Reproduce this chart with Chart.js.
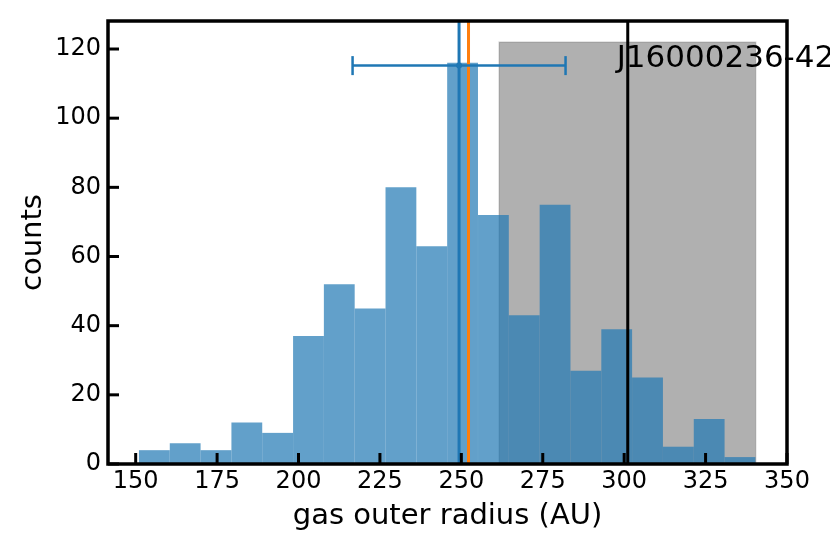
<!DOCTYPE html>
<html>
<head>
<meta charset="utf-8">
<script src="https://cdn.jsdelivr.net/npm/chart.js@4.4.1/dist/chart.umd.min.js"></script>
<style>
  body { margin: 0; background: #fff; }
  #wrap { width: 830px; height: 554px; position: relative; }
</style>
</head>
<body>
<div id="wrap"><canvas id="hist"></canvas></div>
<script>
// histogram bins (centres) and counts
const binCenters = [155.73, 165.20, 174.66, 184.13, 193.59, 203.06, 212.52, 221.99, 231.45, 240.92,
                    250.38, 259.85, 269.31, 278.78, 288.24, 297.71, 307.17, 316.64, 326.10, 335.57];
const counts = [4, 6, 4, 12, 9, 37, 52, 45, 80, 63, 116, 72, 43, 75, 27, 39, 25, 5, 13, 2];

// markers
const blueLine = 249.3;
const orangeLine = 252.2;
const blackLine = 301.1;
const errLow = 216.6, errHigh = 282.0, errY = 115.2;
const shadeFrom = 261.6, shadeTo = 340.4, shadeTop = 122;
const labelText = 'J16000236-42';

const xMin = 141.5, xMax = 350, yMin = 0, yMax = 128.1;
const xTicks = [150, 175, 200, 225, 250, 275, 300, 325, 350];
const yTicks = [0, 20, 40, 60, 80, 100, 120];

const FONT = "'DejaVu Sans', sans-serif";

const framePlugin = {
  id: 'frame',
  beforeDatasetsDraw(chart) {
    const {ctx, scales: {x, y}} = chart;
    const x0 = x.getPixelForValue(shadeFrom), x1 = x.getPixelForValue(shadeTo);
    const y0 = y.getPixelForValue(0), y1 = y.getPixelForValue(shadeTop);
    ctx.save();
    ctx.fillStyle = 'rgba(0,0,0,0.31)';
    ctx.fillRect(x0, y1, x1 - x0, y0 - y1);
    ctx.strokeStyle = 'rgba(0,0,0,0.15)';
    ctx.lineWidth = 1.5;
    ctx.strokeRect(x0, y1, x1 - x0, y0 - y1);
    ctx.restore();
  },
  afterDatasetsDraw(chart) {
    const {ctx, scales: {x, y}} = chart;
    const yy = y.getPixelForValue(errY);
    ctx.save();
    ctx.strokeStyle = '#1f77b4';
    ctx.lineWidth = 2.5;
    [errLow, errHigh].forEach(v => {
      const px = x.getPixelForValue(v);
      ctx.beginPath();
      ctx.moveTo(px, yy - 9.5);
      ctx.lineTo(px, yy + 9.5);
      ctx.stroke();
    });
    ctx.fillStyle = '#1f77b4';
    ctx.beginPath();
    ctx.arc(x.getPixelForValue(blueLine), yy, 3, 0, Math.PI * 2);
    ctx.fill();
    ctx.restore();
  },
  afterDraw(chart) {
    const {ctx, chartArea: a, scales: {x, y}} = chart;
    ctx.save();
    ctx.strokeStyle = '#000';
    ctx.lineWidth = 3;
    x.ticks.forEach(t => {
      const px = x.getPixelForValue(t.value);
      ctx.beginPath();
      ctx.moveTo(px, a.bottom);
      ctx.lineTo(px, a.bottom - 11);
      ctx.stroke();
    });
    y.ticks.forEach(t => {
      const py = y.getPixelForValue(t.value);
      ctx.beginPath();
      ctx.moveTo(a.left, py);
      ctx.lineTo(a.left + 11, py);
      ctx.stroke();
    });
    ctx.lineWidth = 3.5;
    ctx.strokeRect(a.left, a.top, a.right - a.left, a.bottom - a.top);

    ctx.fillStyle = '#000';
    ctx.font = '31px ' + FONT;
    ctx.textAlign = 'left';
    ctx.textBaseline = 'alphabetic';
    ctx.fillText(labelText, x.getPixelForValue(297.7), y.getPixelForValue(114.8));
    ctx.restore();
  }
};

function vline(v, color, width) {
  return {
    type: 'line',
    data: [{x: v, y: yMin}, {x: v, y: yMax}],
    borderColor: color,
    borderWidth: width,
    pointRadius: 0,
    order: 1
  };
}

new Chart(document.getElementById('hist'), {
  type: 'bar',
  data: {
    datasets: [
      vline(blackLine, '#000000', 3),
      vline(orangeLine, '#ff7f0e', 3),
      vline(blueLine, '#1f77b4', 3),
      {
        type: 'line',
        data: [{x: errLow, y: errY}, {x: errHigh, y: errY}],
        borderColor: '#1f77b4',
        borderWidth: 2.5,
        pointRadius: 0,
        order: 0
      },
      {
        type: 'bar',
        data: binCenters.map((c, i) => ({x: c, y: counts[i]})),
        backgroundColor: 'rgba(31,119,180,0.7)',
        borderWidth: 0,
        inflateAmount: 0,
        barPercentage: 1,
        categoryPercentage: 1,
        order: 10
      }
    ]
  },
  options: {
    responsive: true,
    maintainAspectRatio: false,
    animation: false,
    devicePixelRatio: 1,
    layout: { padding: { left: 0, top: 21, right: 43, bottom: 0 } },
    plugins: { legend: { display: false }, tooltip: { enabled: false } },
    scales: {
      x: {
        type: 'linear',
        offset: false,
        min: xMin,
        max: xMax,
        grid: { display: false, offset: false },
        border: { display: false },
        afterBuildTicks: s => { s.ticks = xTicks.map(v => ({value: v})); },
        afterFit: s => { s.height = 90; },
        ticks: {
          padding: -5,
          maxRotation: 0,
          autoSkip: false,
          color: '#000',
          font: { family: FONT, size: 24 }
        },
        title: {
          display: true,
          text: 'gas outer radius (AU)',
          color: '#000',
          font: { family: FONT, size: 29 },
          padding: { top: 0, bottom: 20.6 }
        }
      },
      y: {
        type: 'linear',
        min: yMin,
        max: yMax,
        grid: { display: false },
        border: { display: false },
        afterBuildTicks: s => { s.ticks = yTicks.map(v => ({value: v})); },
        afterFit: s => { s.width = 108; },
        ticks: {
          padding: -1,
          color: '#000',
          font: { family: FONT, size: 24 }
        },
        title: {
          display: true,
          text: 'counts',
          color: '#000',
          font: { family: FONT, size: 29 },
          padding: { top: 15.6, bottom: 0 }
        }
      }
    }
  },
  plugins: [framePlugin]
});
</script>
</body>
</html>
